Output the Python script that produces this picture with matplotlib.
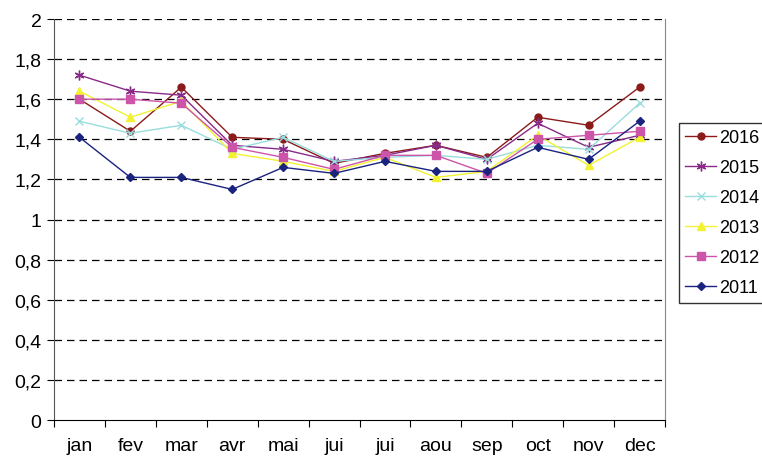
import numpy as np
import matplotlib.pyplot as plt
from matplotlib.ticker import FixedLocator, FuncFormatter

months = ['jan', 'fev', 'mar', 'avr', 'mai', 'jui', 'jui', 'aou', 'sep', 'oct', 'nov', 'dec']

y2016 = [1.60, 1.44, 1.66, 1.41, 1.40, 1.28, 1.33, 1.37, 1.31, 1.51, 1.47, 1.66]
y2015 = [1.72, 1.64, 1.62, 1.37, 1.35, 1.29, 1.32, 1.37, 1.30, 1.48, 1.36, 1.42]
y2014 = [1.49, 1.43, 1.47, 1.35, 1.41, 1.29, 1.31, 1.32, 1.30, 1.37, 1.35, 1.58]
y2013 = [1.64, 1.51, 1.59, 1.33, 1.29, 1.24, 1.31, 1.21, 1.24, 1.42, 1.27, 1.41]
y2012 = [1.60, 1.60, 1.58, 1.36, 1.31, 1.25, 1.32, 1.32, 1.23, 1.40, 1.42, 1.44]
y2011 = [1.41, 1.21, 1.21, 1.15, 1.26, 1.23, 1.29, 1.24, 1.24, 1.36, 1.30, 1.49]

series = [
    ('2016', y2016, '#8b1a1a', 'o', 5),
    ('2015', y2015, '#882a88', (6, 2, 0), 7),
    ('2014', y2014, '#99dddd', 'x', 6),
    ('2013', y2013, '#f2f230', '^', 6),
    ('2012', y2012, '#cc55aa', 's', 5.5),
    ('2011', y2011, '#1a237e', 'D', 4),
]

plt.rcParams['font.family'] = ['Liberation Sans', 'DejaVu Sans']

fig = plt.figure(figsize=(7.62, 4.6), dpi=100)
ax = fig.add_axes([54 / 762, 1 - 421 / 460, 611 / 762, 401 / 460])

x = np.arange(len(months)) + 0.5
for name, vals, col, mk, ms in series:
    ax.plot(x, vals, color=col, marker=mk, markersize=ms, linewidth=1,
            markerfacecolor=col, markeredgecolor=col, label=name)

ax.set_xlim(0, 12)
ax.set_ylim(0, 2)
ax.set_yticks(np.arange(0, 2.01, 0.2))
ax.yaxis.set_major_formatter(FuncFormatter(lambda v, p: ('%g' % round(v, 1)).replace('.', ',')))
for v in np.arange(0.2, 2.01, 0.2):
    ax.axhline(v, color='black', linestyle=(0, (6, 4)), linewidth=0.9, zorder=0)

ax.xaxis.set_major_locator(FixedLocator(np.arange(0, 13)))
ax.xaxis.set_minor_locator(FixedLocator(x))
ax.set_xticklabels([], minor=False)
ax.set_xticklabels(months, minor=True)
ax.tick_params(axis='x', which='minor', length=0, pad=12, labelsize=14)
ax.tick_params(axis='x', which='major', length=5, direction='out')
ax.tick_params(axis='y', length=5, direction='out', labelsize=14, pad=4)

ax.spines['top'].set_visible(False)
ax.spines['right'].set_color('#888888')
ax.spines['left'].set_color('#555555')
ax.spines['bottom'].set_color('black')

leg = ax.legend(loc='upper left', bbox_to_anchor=((679 - 54) / 611, 1 - 104 / 401),
                frameon=True, fancybox=False, edgecolor='black', fontsize=13,
                handlelength=1.7, borderpad=0.35, labelspacing=0.72, handletextpad=0.2,
                borderaxespad=0)
leg.get_frame().set_linewidth(1)

fig.savefig('out.png', dpi=100)
